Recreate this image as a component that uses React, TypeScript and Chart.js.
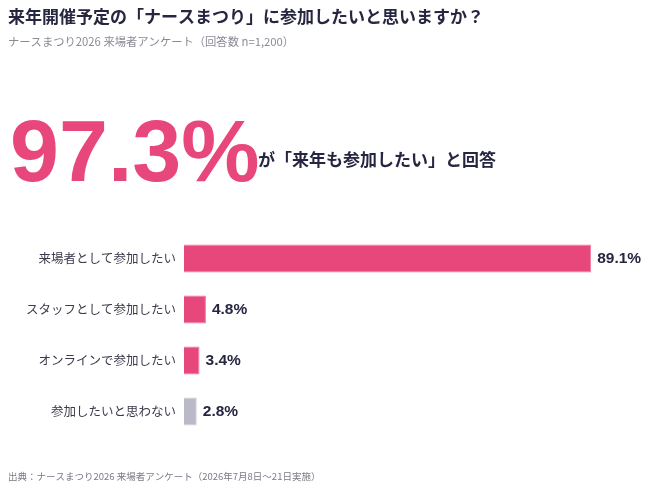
import {useEffect, useRef} from "react";
import {Chart} from "chart.js/auto";

const categories = ["来場者として参加したい", "スタッフとして参加したい", "オンラインで参加したい", "参加したいと思わない"]
const values = [89.1, 4.8, 3.4, 2.8]
const barColors = ["#e8477c", "#e8477c", "#e8477c", "#b9b9c7"]
const borderColors = ["#f07aa0", "#f07aa0", "#f07aa0", "#d2d2dc"]

const title = "来年開催予定の「ナースまつり」に参加したいと思いますか？"
const subtitle = "ナースまつり2026 来場者アンケート（回答数 n=1,200）"
const headline = "97.3%"
const headlineNote = "が「来年も参加したい」と回答"
const source = "出典：ナースまつり2026 来場者アンケート（2026年7月8日〜21日実施）"

const JP = "'Noto Sans CJK JP', 'Noto Sans', sans-serif"
const DARK = "#262640"

let chart: Chart

const textPlugin = {
  id: "texts",
  afterDraw(c: Chart) {
    const ctx = c.ctx
    ctx.save()
    ctx.textBaseline = "middle"
    ctx.textAlign = "left"

    ctx.fillStyle = DARK
    ctx.font = `bold 17px ${JP}`
    ctx.fillText(title, 8, 17)

    ctx.fillStyle = "#8a8a96"
    ctx.font = `11.3px ${JP}`
    ctx.fillText(subtitle, 8, 42)

    ctx.textBaseline = "alphabetic"
    ctx.fillStyle = "#e8477c"
    ctx.font = "bold 88px 'Liberation Sans', Arial, sans-serif"
    ctx.fillText(headline, 10, 181)

    ctx.textBaseline = "middle"
    ctx.fillStyle = DARK
    ctx.font = `bold 17px ${JP}`
    ctx.fillText(headlineNote, 258, 160)

    ctx.fillStyle = "#7a7a86"
    ctx.font = `9.5px ${JP}`
    ctx.fillText(source, 8, 476)

    // value labels
    const meta = c.getDatasetMeta(0)
    ctx.fillStyle = DARK
    ctx.font = "bold 15.5px 'Liberation Sans', Arial, sans-serif"
    meta.data.forEach((bar, i) => {
      ctx.fillText(values[i].toFixed(1) + "%", bar.x + 6, bar.y)
    })
    ctx.restore()
  }
}

export default () => {
  const canvas = useRef<HTMLCanvasElement>(null)

  useEffect(() => {
    chart = new Chart(canvas.current!, {
      type: "bar",
      plugins: [textPlugin],
      data: {
        labels: categories,
        datasets: [{
          data: values,
          backgroundColor: barColors,
          borderColor: borderColors,
          borderWidth: 1,
          barPercentage: 0.55,
          categoryPercentage: 1,
        }]
      },
      options: {
        indexAxis: "y",
        animation: false,
        responsive: true,
        maintainAspectRatio: false,
        layout: {padding: {top: 233, bottom: 53, left: 0, right: 9}},
        plugins: {
          legend: {display: false},
          tooltip: {enabled: false},
        },
        scales: {
          x: {display: false, min: 0, max: 100},
          y: {
            grid: {display: false, drawTicks: false},
            border: {display: false},
            ticks: {
              color: "#3a3a4a",
              padding: 8,
              font: {family: JP, size: 12.5},
            },
            afterFit(scale) {
              scale.width = 184
            }
          }
        }
      }
    })
    return () => {
      chart.destroy();
    }
  }, [])

  return (
    <div style={{position: "fixed", left: 0, top: 0, width: 650, height: 490, background: "#fff"}}>
      <canvas ref={canvas}></canvas>
    </div>
  )
}
